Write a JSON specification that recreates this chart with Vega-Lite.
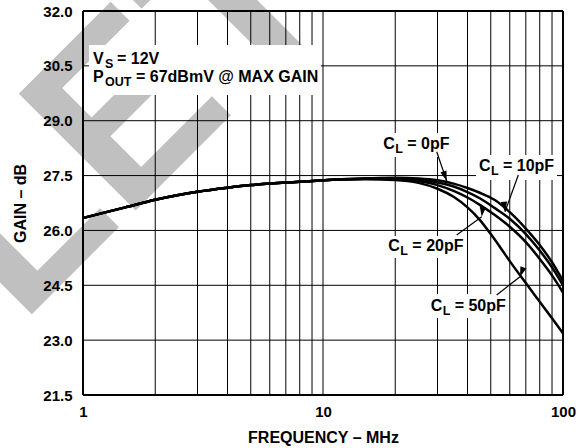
{
  "$schema": "https://vega.github.io/schema/vega-lite/v6.json",
  "width": 480,
  "height": 384,
  "autosize": {"type": "none"},
  "padding": {"left": 83, "top": 11, "right": 24, "bottom": 53},
  "background": "white",
  "config": {
    "font": "Liberation Sans",
    "view": {"stroke": null},
    "axis": {
      "grid": false, "domain": false, "ticks": false, "labelFlush": false,
      "labelFont": "Liberation Sans", "labelFontSize": 15, "labelFontWeight": "bold", "labelColor": "black",
      "titleFont": "Liberation Sans", "titleFontSize": 16, "titleFontWeight": "bold", "titleColor": "black"
    },
    "text": {"font": "Liberation Sans", "fontWeight": "bold", "fontSize": 16, "color": "black"}
  },
  "datasets": {
    "watermark": [{"f": 0.004546, "g": 9.737, "t": "OBSOLETE"}],
    "xgrid": [{"f":2},{"f":3},{"f":4},{"f":5},{"f":6},{"f":7},{"f":8},{"f":9},{"f":10},{"f":20},{"f":30},{"f":40},{"f":50},{"f":60},{"f":70},{"f":80},{"f":90}],
    "ygrid": [{"g":23},{"g":24.5},{"g":26},{"g":27.5},{"g":29},{"g":30.5}],
    "xframe": [{"f":1},{"f":100}],
    "yframe": [{"g":21.5},{"g":32}],
    "curves": [
      {"c":"0pF","f":1,"g":26.34},{"c":"0pF","f":1.25,"g":26.5},{"c":"0pF","f":1.5,"g":26.63},{"c":"0pF","f":2,"g":26.84},{"c":"0pF","f":2.5,"g":26.97},{"c":"0pF","f":3,"g":27.06},{"c":"0pF","f":4,"g":27.17},{"c":"0pF","f":5,"g":27.24},{"c":"0pF","f":6,"g":27.28},{"c":"0pF","f":7,"g":27.31},{"c":"0pF","f":8,"g":27.33},{"c":"0pF","f":10,"g":27.37},{"c":"0pF","f":12,"g":27.4},{"c":"0pF","f":15,"g":27.42},
      {"c":"0pF","f":20,"g":27.44},{"c":"0pF","f":25,"g":27.42},{"c":"0pF","f":30,"g":27.37},{"c":"0pF","f":35,"g":27.28},{"c":"0pF","f":40,"g":27.16},{"c":"0pF","f":45,"g":27.03},{"c":"0pF","f":52,"g":26.83},{"c":"0pF","f":60,"g":26.5},{"c":"0pF","f":70,"g":26.05},{"c":"0pF","f":80,"g":25.6},{"c":"0pF","f":90,"g":25.13},{"c":"0pF","f":100,"g":24.62},
      {"c":"10pF","f":1,"g":26.34},{"c":"10pF","f":1.25,"g":26.5},{"c":"10pF","f":1.5,"g":26.63},{"c":"10pF","f":2,"g":26.84},{"c":"10pF","f":2.5,"g":26.97},{"c":"10pF","f":3,"g":27.06},{"c":"10pF","f":4,"g":27.17},{"c":"10pF","f":5,"g":27.24},{"c":"10pF","f":6,"g":27.28},{"c":"10pF","f":7,"g":27.31},{"c":"10pF","f":8,"g":27.33},{"c":"10pF","f":10,"g":27.37},{"c":"10pF","f":12,"g":27.4},{"c":"10pF","f":15,"g":27.42},
      {"c":"10pF","f":20,"g":27.43},{"c":"10pF","f":25,"g":27.39},{"c":"10pF","f":30,"g":27.31},{"c":"10pF","f":35,"g":27.2},{"c":"10pF","f":40,"g":27.05},{"c":"10pF","f":45,"g":26.88},{"c":"10pF","f":52,"g":26.61},{"c":"10pF","f":60,"g":26.32},{"c":"10pF","f":70,"g":25.9},{"c":"10pF","f":80,"g":25.45},{"c":"10pF","f":90,"g":24.99},{"c":"10pF","f":100,"g":24.5},
      {"c":"20pF","f":1,"g":26.34},{"c":"20pF","f":1.25,"g":26.5},{"c":"20pF","f":1.5,"g":26.63},{"c":"20pF","f":2,"g":26.84},{"c":"20pF","f":2.5,"g":26.97},{"c":"20pF","f":3,"g":27.06},{"c":"20pF","f":4,"g":27.17},{"c":"20pF","f":5,"g":27.24},{"c":"20pF","f":6,"g":27.28},{"c":"20pF","f":7,"g":27.31},{"c":"20pF","f":8,"g":27.33},{"c":"20pF","f":10,"g":27.37},{"c":"20pF","f":12,"g":27.4},{"c":"20pF","f":15,"g":27.41},
      {"c":"20pF","f":20,"g":27.42},{"c":"20pF","f":25,"g":27.35},{"c":"20pF","f":30,"g":27.24},{"c":"20pF","f":35,"g":27.08},{"c":"20pF","f":40,"g":26.9},{"c":"20pF","f":45,"g":26.7},{"c":"20pF","f":52,"g":26.42},{"c":"20pF","f":60,"g":26.1},{"c":"20pF","f":70,"g":25.68},{"c":"20pF","f":80,"g":25.22},{"c":"20pF","f":90,"g":24.77},{"c":"20pF","f":100,"g":24.3},
      {"c":"50pF","f":1,"g":26.34},{"c":"50pF","f":1.25,"g":26.5},{"c":"50pF","f":1.5,"g":26.63},{"c":"50pF","f":2,"g":26.84},{"c":"50pF","f":2.5,"g":26.97},{"c":"50pF","f":3,"g":27.06},{"c":"50pF","f":4,"g":27.17},{"c":"50pF","f":5,"g":27.24},{"c":"50pF","f":6,"g":27.28},{"c":"50pF","f":7,"g":27.31},{"c":"50pF","f":8,"g":27.33},{"c":"50pF","f":10,"g":27.37},{"c":"50pF","f":12,"g":27.39},{"c":"50pF","f":15,"g":27.4},
      {"c":"50pF","f":20,"g":27.38},{"c":"50pF","f":25,"g":27.3},{"c":"50pF","f":30,"g":27.14},{"c":"50pF","f":35,"g":26.92},{"c":"50pF","f":40,"g":26.63},{"c":"50pF","f":45,"g":26.29},{"c":"50pF","f":50,"g":25.9},{"c":"50pF","f":55,"g":25.52},{"c":"50pF","f":60,"g":25.16},{"c":"50pF","f":70,"g":24.56},{"c":"50pF","f":80,"g":24.05},{"c":"50pF","f":90,"g":23.6},{"c":"50pF","f":100,"g":23.19}
    ],
    "boxes": [
      {"f1":1.059,"f2":9.8,"g1":29.70,"g2":31.07},
      {"f1":17.28,"f2":34.15,"g1":28.008,"g2":28.664},
      {"f1":43.4,"f2":94.4,"g1":27.379,"g2":28.06},
      {"f1":17.97,"f2":39.8,"g1":25.246,"g2":25.848},
      {"f1":27.13,"f2":58.45,"g1":23.606,"g2":24.262}
    ],
    "arrows": [
      {"c":"0pF","f1":29.77,"g1":28.153,"f2":32.77,"g2":27.352},
      {"c":"10pF","f1":65.13,"g1":27.516,"f2":57.33,"g2":26.512},
      {"c":"20pF","f1":36.06,"g1":25.875,"f2":45.85,"g2":26.375},
      {"c":"50pF","f1":52.94,"g1":24.234,"f2":66.2,"g2":24.735}
    ],
    "labels": [
      {"f":1.1006,"g":30.551,"main":"V","sub":"S","rest":"= 12V"},
      {"f":1.1006,"g":30.045,"main":"P","sub":"OUT","rest":"= 67dBmV @ MAX GAIN"},
      {"f":17.84,"g":28.24,"main":"C","sub":"L","rest":"= 0pF"},
      {"f":44.67,"g":27.633,"main":"C","sub":"L","rest":"= 10pF"},
      {"f":18.72,"g":25.437,"main":"C","sub":"L","rest":"= 20pF"},
      {"f":28.09,"g":23.805,"main":"C","sub":"L","rest":"= 50pF"}
    ]
  },
  "layer": [
    {
      "data": {"name": "watermark"},
      "mark": {"type": "text", "align": "left", "baseline": "alphabetic", "angle": -45, "fontSize": 240, "fontWeight": "bold", "font": "Liberation Sans", "color": "#c0c0c0"},
      "encoding": {
        "x": {"field": "f", "type": "quantitative",
              "scale": {"type": "log", "domain": [1, 100], "nice": false},
              "axis": {"values": [1,10,100], "zindex": 1,
                       "title": "FREQUENCY – MHz", "labelPadding": 9, "titlePadding": 10}},
        "y": {"field": "g", "type": "quantitative",
              "scale": {"domain": [21.5, 32], "nice": false, "zero": false},
              "axis": {"values": [21.5,23,24.5,26,27.5,29,30.5,32], "format": ".1f", "zindex": 1,
                       "title": "GAIN – dB", "labelPadding": 11, "titlePadding": 14}},
        "text": {"field": "t"}
      }
    },
    {
      "data": {"name": "xgrid"},
      "mark": {"type": "rule", "color": "black", "strokeWidth": 1},
      "encoding": {"x": {"field": "f", "type": "quantitative"}}
    },
    {
      "data": {"name": "ygrid"},
      "mark": {"type": "rule", "color": "black", "strokeWidth": 1},
      "encoding": {"y": {"field": "g", "type": "quantitative"}}
    },
    {
      "data": {"name": "boxes"},
      "mark": {"type": "rect", "fill": "white", "strokeWidth": 0},
      "encoding": {
        "x": {"field": "f1", "type": "quantitative"},
        "x2": {"field": "f2"},
        "y": {"field": "g1", "type": "quantitative"},
        "y2": {"field": "g2"}
      }
    },
    {
      "data": {"name": "xframe"},
      "mark": {"type": "rule", "color": "black", "strokeWidth": 2},
      "encoding": {"x": {"field": "f", "type": "quantitative"}}
    },
    {
      "data": {"name": "yframe"},
      "mark": {"type": "rule", "color": "black", "strokeWidth": 2},
      "encoding": {"y": {"field": "g", "type": "quantitative"}}
    },
    {
      "data": {"name": "curves"},
      "mark": {"type": "line", "color": "black", "strokeWidth": 2.5, "interpolate": "monotone"},
      "encoding": {
        "x": {"field": "f", "type": "quantitative"},
        "y": {"field": "g", "type": "quantitative"},
        "detail": {"field": "c", "type": "nominal"}
      }
    },
    {
      "data": {"name": "arrows"},
      "mark": {"type": "rule", "color": "black", "strokeWidth": 1.2},
      "encoding": {
        "x": {"field": "f1", "type": "quantitative"},
        "y": {"field": "g1", "type": "quantitative"},
        "x2": {"field": "f2"},
        "y2": {"field": "g2"}
      }
    },
    {
      "data": {"name": "arrows"},
      "mark": {"type": "point", "shape": "M0,0L-0.32,1L0.32,1Z", "filled": true, "color": "black", "opacity": 1, "size": 400},
      "encoding": {
        "x": {"field": "f2", "type": "quantitative"},
        "y": {"field": "g2", "type": "quantitative"},
        "angle": {"field": "c", "type": "nominal", "scale": {"domain": ["0pF","10pF","20pF","50pF"], "range": [161, 200, 54, 52]}, "legend": null}
      }
    },
    {
      "data": {"name": "labels"},
      "mark": {"type": "text", "align": "left", "baseline": "alphabetic"},
      "encoding": {
        "x": {"field": "f", "type": "quantitative"},
        "y": {"field": "g", "type": "quantitative"},
        "text": {"field": "main"}
      }
    },
    {
      "data": {"name": "labels"},
      "mark": {"type": "text", "align": "left", "baseline": "alphabetic", "dx": 12, "dy": 4, "fontSize": 12.5},
      "encoding": {
        "x": {"field": "f", "type": "quantitative"},
        "y": {"field": "g", "type": "quantitative"},
        "text": {"field": "sub"}
      }
    },
    {
      "data": {"name": "labels"},
      "transform": [{"filter": "datum.sub != 'OUT'"}],
      "mark": {"type": "text", "align": "left", "baseline": "alphabetic", "dx": 24},
      "encoding": {
        "x": {"field": "f", "type": "quantitative"},
        "y": {"field": "g", "type": "quantitative"},
        "text": {"field": "rest"}
      }
    },
    {
      "data": {"name": "labels"},
      "transform": [{"filter": "datum.sub == 'OUT'"}],
      "mark": {"type": "text", "align": "left", "baseline": "alphabetic", "dx": 43},
      "encoding": {
        "x": {"field": "f", "type": "quantitative"},
        "y": {"field": "g", "type": "quantitative"},
        "text": {"field": "rest"}
      }
    }
  ]
}
